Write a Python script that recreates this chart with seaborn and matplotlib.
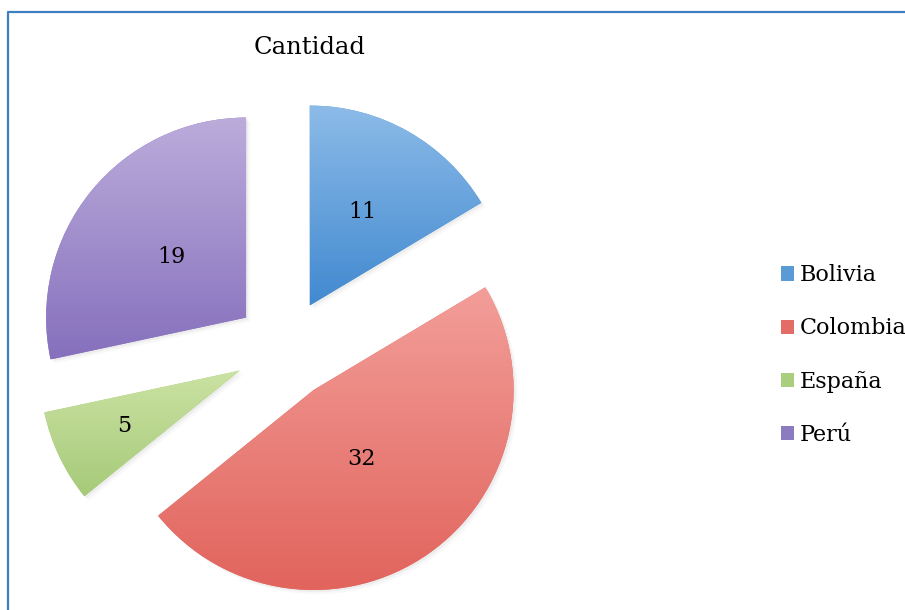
import numpy as np
import matplotlib
matplotlib.use('Agg')
import matplotlib.pyplot as plt
import matplotlib.patches as mpatches
from matplotlib.lines import Line2D
import seaborn as sns

# Data
paises = ['Bolivia', 'Colombia', 'España', 'Perú']
cantidad = [11, 32, 5, 19]

# gradient colours (top, bottom) per slice + legend colour
grad_top = ['#8cbbe8', '#f39e99', '#cbe2a3', '#bcacdb']
grad_bot = ['#4189d0', '#e1645d', '#a6ca79', '#8670bd']
legend_cols = ['#5b9bd5', '#e46c66', '#abcd7e', '#8d7bc2']

sns.set_theme(style='white')
plt.rcParams['font.family'] = ['DejaVu Serif']
plt.rcParams['text.color'] = 'black'

W, H = 905, 610
fig = plt.figure(figsize=(W / 100, H / 100), dpi=100)
ax = fig.add_axes([0, 0, 1, 1])

# pie centre (pixels) and radius
cx, cy, rpx = 285, 349, 200

wedges, _ = ax.pie(cantidad, startangle=90, counterclock=False,
                   explode=[0.25] * 4, radius=1,
                   colors=legend_cols,
                   wedgeprops=dict(linewidth=0, zorder=2))

# soft shadow
for w in wedges:
    for k, a in [(0.010, 0.08), (0.020, 0.05)]:
        sh = mpatches.Wedge((w.center[0] + k, w.center[1] - k), w.r, w.theta1, w.theta2,
                            facecolor='#7a7a7a', edgecolor='none', alpha=a, zorder=1)
        ax.add_patch(sh)

# gradient fill clipped to each wedge
for w, ct, cb in zip(wedges, grad_top, grad_bot):
    ext = w.get_path().get_extents()
    c1 = np.array(matplotlib.colors.to_rgb(ct))
    c2 = np.array(matplotlib.colors.to_rgb(cb))
    t = np.linspace(0, 1, 256)[:, None, None]
    img = c1 * (1 - t) + c2 * t
    im = ax.imshow(img, extent=[ext.x0, ext.x1, ext.y0, ext.y1], origin='upper',
                   aspect='auto', zorder=3, interpolation='bilinear')
    im.set_clip_path(w)

# value labels
label_dist = [0.535, 0.42, 0.64, 0.48]
for w, v, d in zip(wedges, cantidad, label_dist):
    ang = np.deg2rad((w.theta1 + w.theta2) / 2)
    ax.text(w.center[0] + d * w.r * np.cos(ang), w.center[1] + d * w.r * np.sin(ang),
            str(v), ha='center', va='center', fontsize=16, color='black', zorder=5)

ax.set_xlim(-cx / rpx, (W - cx) / rpx)
ax.set_ylim(-(H - cy) / rpx, cy / rpx)
ax.set_aspect('auto')
ax.axis('off')

fig.text(310 / W, 1 - 47 / H, 'Cantidad', ha='center', va='center', fontsize=17.5,
         color='black')

handles = [mpatches.Patch(facecolor=c, edgecolor='none') for c in legend_cols]
leg = fig.legend(handles, paises, loc='center left', bbox_to_anchor=(772 / W, 1 - 355 / H),
                 frameon=False, fontsize=16, handlelength=0.6, handleheight=0.6,
                 handletextpad=0.25, labelspacing=1.4, borderaxespad=0)
for txt in leg.get_texts():
    txt.set_color('black')

# frame lines (top and left)
fig.add_artist(Line2D([8 / W, 8 / W, 1], [0, 1 - 12 / H, 1 - 12 / H],
                      transform=fig.transFigure, color='#3f7fc0', lw=1.6))

fig.savefig('out.png', dpi=100)
